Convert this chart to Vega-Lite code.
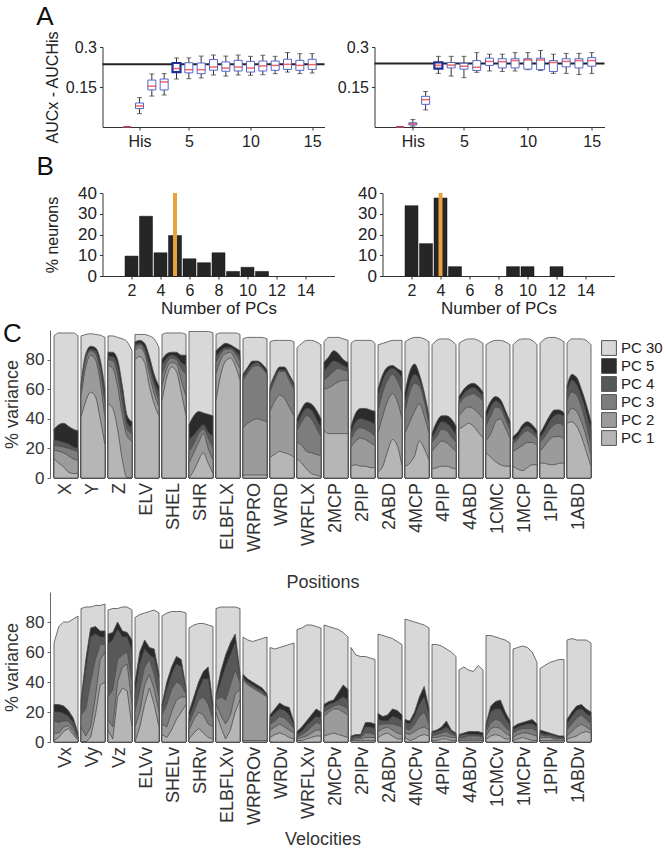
{
"$schema": "https://vega.github.io/schema/vega-lite/v6.json",
"padding": {"left": 3, "top": 3, "right": 0, "bottom": 0},
"config": {
  "font": "Liberation Sans",
  "view": {"stroke": null},
  "axis": {"grid": false, "domainColor": "#333", "tickColor": "#333", "labelColor": "#222", "titleColor": "#222", "labelFontSize": 16, "titleFontSize": 16, "titleFontWeight": "normal", "tickSize": 3, "labelPadding": 3},
  "title": {"fontSize": 26, "fontWeight": "normal", "anchor": "start", "frame": "bounds", "color": "#111"},
  "header": {"labelFont": "Liberation Sans", "titleFont": "Liberation Sans"},
  "legend": {"labelFont": "Liberation Sans"}
},
"datasets": {
  "refL": [{"auc": 0.235}],
  "refR": [{"auc": 0.238}],
  "aucL": [
    {"n":0,"lo":0,"q1":0,"med":0,"q3":0,"hi":0,"hl":false},
    {"n":1,"lo":0.05,"q1":0.069,"med":0.079,"q3":0.09,"hi":0.11,"hl":false},
    {"n":2,"lo":0.116,"q1":0.139,"med":0.153,"q3":0.176,"hi":0.199,"hl":false},
    {"n":3,"lo":0.12,"q1":0.139,"med":0.169,"q3":0.18,"hi":0.2,"hl":false},
    {"n":4,"lo":0.18,"q1":0.206,"med":0.219,"q3":0.24,"hi":0.259,"hl":true},
    {"n":5,"lo":0.181,"q1":0.203,"med":0.215,"q3":0.241,"hi":0.259,"hl":false},
    {"n":6,"lo":0.184,"q1":0.2,"med":0.215,"q3":0.24,"hi":0.266,"hl":false},
    {"n":7,"lo":0.195,"q1":0.213,"med":0.225,"q3":0.253,"hi":0.27,"hl":false},
    {"n":8,"lo":0.191,"q1":0.209,"med":0.221,"q3":0.244,"hi":0.266,"hl":false},
    {"n":9,"lo":0.195,"q1":0.21,"med":0.225,"q3":0.25,"hi":0.27,"hl":false},
    {"n":10,"lo":0.194,"q1":0.206,"med":0.221,"q3":0.246,"hi":0.265,"hl":false},
    {"n":11,"lo":0.196,"q1":0.21,"med":0.229,"q3":0.2475,"hi":0.269,"hl":false},
    {"n":12,"lo":0.2,"q1":0.2125,"med":0.231,"q3":0.2475,"hi":0.265,"hl":false},
    {"n":13,"lo":0.206,"q1":0.216,"med":0.235,"q3":0.254,"hi":0.279,"hl":false},
    {"n":14,"lo":0.2,"q1":0.2125,"med":0.231,"q3":0.25,"hi":0.275,"hl":false},
    {"n":15,"lo":0.2025,"q1":0.216,"med":0.234,"q3":0.254,"hi":0.275,"hl":false}
  ],
  "aucR": [
    {"n":0,"lo":0,"q1":0,"med":0,"q3":0,"hi":0,"hl":false},
    {"n":1,"lo":0.003,"q1":0.008,"med":0.012,"q3":0.016,"hi":0.028,"hl":false},
    {"n":2,"lo":0.064,"q1":0.085,"med":0.1025,"q3":0.115,"hi":0.133,"hl":false},
    {"n":3,"lo":0.201,"q1":0.219,"med":0.231,"q3":0.242,"hi":0.265,"hl":true},
    {"n":4,"lo":0.191,"q1":0.2215,"med":0.232,"q3":0.242,"hi":0.265,"hl":false},
    {"n":5,"lo":0.185,"q1":0.217,"med":0.228,"q3":0.239,"hi":0.265,"hl":false},
    {"n":6,"lo":0.205,"q1":0.212,"med":0.224,"q3":0.249,"hi":0.279,"hl":false},
    {"n":7,"lo":0.21,"q1":0.231,"med":0.246,"q3":0.258,"hi":0.273,"hl":false},
    {"n":8,"lo":0.208,"q1":0.2215,"med":0.245,"q3":0.256,"hi":0.273,"hl":false},
    {"n":9,"lo":0.21,"q1":0.2215,"med":0.249,"q3":0.256,"hi":0.279,"hl":false},
    {"n":10,"lo":0.215,"q1":0.217,"med":0.2515,"q3":0.256,"hi":0.279,"hl":false},
    {"n":11,"lo":0.212,"q1":0.215,"med":0.2515,"q3":0.258,"hi":0.287,"hl":false},
    {"n":12,"lo":0.201,"q1":0.208,"med":0.242,"q3":0.249,"hi":0.273,"hl":false},
    {"n":13,"lo":0.201,"q1":0.2255,"med":0.246,"q3":0.256,"hi":0.276,"hl":false},
    {"n":14,"lo":0.197,"q1":0.2215,"med":0.249,"q3":0.256,"hi":0.276,"hl":false},
    {"n":15,"lo":0.201,"q1":0.228,"med":0.249,"q3":0.26,"hi":0.279,"hl":false}
  ],
  "bL": [{"n":2,"p":9.6},{"n":3,"p":28.8},{"n":4,"p":11.2},{"n":5,"p":19.5},{"n":6,"p":8.3},{"n":7,"p":6.4},{"n":8,"p":11.2},{"n":9,"p":2.2},{"n":10,"p":4.2},{"n":11,"p":2.2}],
  "bR": [{"n":2,"p":33.9},{"n":3,"p":15.6},{"n":4,"p":37.6},{"n":5,"p":4.5},{"n":9,"p":4.5},{"n":10,"p":4.5},{"n":12,"p":4.5}],
  "mL": [{"n":5}],
  "mR": [{"n":4}],
  "pos": [
    {"j":"X","t":0,"p1":13,"p2":19,"p3":22,"p4":25.5,"p5":33,"p30":96},
    {"j":"X","t":0.2,"p1":10,"p2":18,"p3":21.5,"p4":25,"p5":36,"p30":98},
    {"j":"X","t":0.4,"p1":7.5,"p2":17,"p3":21,"p4":24,"p5":37,"p30":98},
    {"j":"X","t":0.6,"p1":4,"p2":15,"p3":20,"p4":23,"p5":35,"p30":98},
    {"j":"X","t":0.8,"p1":3,"p2":13,"p3":19,"p4":21,"p5":33,"p30":98},
    {"j":"X","t":1,"p1":3,"p2":12,"p3":17.6,"p4":20,"p5":32,"p30":96},
    {"j":"Y","t":0,"p1":41,"p2":55,"p3":60,"p4":62,"p5":64,"p30":96},
    {"j":"Y","t":0.2,"p1":52,"p2":75,"p3":80,"p4":82,"p5":84,"p30":97},
    {"j":"Y","t":0.4,"p1":58,"p2":83,"p3":86,"p4":87,"p5":89,"p30":97.5},
    {"j":"Y","t":0.6,"p1":55,"p2":80,"p3":84,"p4":86,"p5":88,"p30":97},
    {"j":"Y","t":0.8,"p1":40,"p2":65,"p3":72,"p4":76,"p5":80,"p30":96.5},
    {"j":"Y","t":1,"p1":22,"p2":40,"p3":50,"p4":55,"p5":60,"p30":95},
    {"j":"Z","t":0,"p1":50,"p2":76,"p3":80,"p4":82,"p5":85,"p30":96},
    {"j":"Z","t":0.2,"p1":47,"p2":74,"p3":79,"p4":82,"p5":85,"p30":96},
    {"j":"Z","t":0.4,"p1":33,"p2":62,"p3":70,"p4":75,"p5":80,"p30":95},
    {"j":"Z","t":0.6,"p1":12,"p2":42,"p3":50,"p4":56,"p5":62,"p30":94},
    {"j":"Z","t":0.8,"p1":0,"p2":28,"p3":33,"p4":37,"p5":42,"p30":92},
    {"j":"Z","t":1,"p1":0,"p2":25,"p3":30,"p4":34,"p5":38,"p30":86},
    {"j":"ELV","t":0,"p1":80,"p2":86,"p3":88,"p4":90,"p5":92,"p30":97},
    {"j":"ELV","t":0.2,"p1":82,"p2":88,"p3":90,"p4":91,"p5":93,"p30":97},
    {"j":"ELV","t":0.4,"p1":78,"p2":84,"p3":86,"p4":88,"p5":91,"p30":97},
    {"j":"ELV","t":0.6,"p1":62,"p2":70,"p3":74,"p4":77,"p5":82,"p30":96},
    {"j":"ELV","t":0.8,"p1":50,"p2":57,"p3":62,"p4":65,"p5":70,"p30":94},
    {"j":"ELV","t":1,"p1":42,"p2":48,"p3":52,"p4":57,"p5":62,"p30":88},
    {"j":"SHEL","t":0,"p1":52,"p2":62,"p3":70,"p4":76,"p5":80,"p30":97},
    {"j":"SHEL","t":0.2,"p1":68,"p2":74,"p3":78,"p4":81,"p5":84,"p30":98},
    {"j":"SHEL","t":0.4,"p1":75,"p2":78,"p3":81,"p4":83,"p5":85,"p30":98},
    {"j":"SHEL","t":0.6,"p1":72,"p2":77,"p3":80,"p4":82,"p5":85,"p30":98},
    {"j":"SHEL","t":0.8,"p1":58,"p2":66,"p3":74,"p4":78,"p5":83,"p30":98},
    {"j":"SHEL","t":1,"p1":42,"p2":55,"p3":70,"p4":76,"p5":83,"p30":97},
    {"j":"SHR","t":0,"p1":0,"p2":10,"p3":18,"p4":26,"p5":36,"p30":99},
    {"j":"SHR","t":0.2,"p1":5,"p2":17,"p3":23,"p4":29,"p5":42,"p30":99},
    {"j":"SHR","t":0.4,"p1":12,"p2":24,"p3":30,"p4":33,"p5":45,"p30":99},
    {"j":"SHR","t":0.6,"p1":17,"p2":30,"p3":33,"p4":36,"p5":44,"p30":99},
    {"j":"SHR","t":0.8,"p1":10,"p2":20,"p3":27,"p4":31,"p5":43,"p30":99},
    {"j":"SHR","t":1,"p1":3,"p2":12,"p3":20,"p4":28,"p5":42,"p30":98},
    {"j":"ELBFLX","t":0,"p1":52,"p2":70,"p3":78,"p4":82,"p5":86,"p30":97},
    {"j":"ELBFLX","t":0.2,"p1":70,"p2":80,"p3":84,"p4":86,"p5":89,"p30":98},
    {"j":"ELBFLX","t":0.4,"p1":79,"p2":84,"p3":87,"p4":88,"p5":91,"p30":98},
    {"j":"ELBFLX","t":0.6,"p1":81,"p2":85,"p3":87,"p4":88,"p5":90,"p30":98},
    {"j":"ELBFLX","t":0.8,"p1":76,"p2":80,"p3":84,"p4":86,"p5":88,"p30":98},
    {"j":"ELBFLX","t":1,"p1":66,"p2":74,"p3":79,"p4":82,"p5":86,"p30":97},
    {"j":"WRPRO","t":0,"p1":2,"p2":34,"p3":66,"p4":68,"p5":70,"p30":94},
    {"j":"WRPRO","t":0.2,"p1":2,"p2":37,"p3":71,"p4":73,"p5":75,"p30":95},
    {"j":"WRPRO","t":0.4,"p1":2,"p2":39,"p3":75,"p4":77,"p5":79,"p30":95},
    {"j":"WRPRO","t":0.6,"p1":2,"p2":40,"p3":76,"p4":78,"p5":79,"p30":95},
    {"j":"WRPRO","t":0.8,"p1":2,"p2":39,"p3":74,"p4":75,"p5":77,"p30":95},
    {"j":"WRPRO","t":1,"p1":2,"p2":38,"p3":70,"p4":71,"p5":73,"p30":94},
    {"j":"WRD","t":0,"p1":14,"p2":45,"p3":58,"p4":60,"p5":62,"p30":92},
    {"j":"WRD","t":0.2,"p1":16,"p2":52,"p3":66,"p4":68,"p5":70,"p30":93},
    {"j":"WRD","t":0.4,"p1":18,"p2":56,"p3":72,"p4":73,"p5":75,"p30":93},
    {"j":"WRD","t":0.6,"p1":17,"p2":54,"p3":72,"p4":73,"p5":75,"p30":93},
    {"j":"WRD","t":0.8,"p1":16,"p2":48,"p3":66,"p4":68,"p5":70,"p30":93},
    {"j":"WRD","t":1,"p1":14,"p2":42,"p3":60,"p4":62,"p5":64,"p30":92},
    {"j":"WRFLX","t":0,"p1":13,"p2":24,"p3":32,"p4":36,"p5":40,"p30":88},
    {"j":"WRFLX","t":0.2,"p1":10,"p2":22,"p3":38,"p4":43,"p5":47,"p30":91},
    {"j":"WRFLX","t":0.4,"p1":6,"p2":18,"p3":42,"p4":47,"p5":51,"p30":93},
    {"j":"WRFLX","t":0.6,"p1":3,"p2":17,"p3":40,"p4":46,"p5":50,"p30":93},
    {"j":"WRFLX","t":0.8,"p1":2,"p2":16,"p3":34,"p4":40,"p5":46,"p30":92},
    {"j":"WRFLX","t":1,"p1":1,"p2":15,"p3":28,"p4":34,"p5":40,"p30":90},
    {"j":"2MCP","t":0,"p1":32,"p2":60,"p3":66,"p4":72,"p5":78,"p30":92},
    {"j":"2MCP","t":0.2,"p1":30,"p2":61,"p3":69,"p4":76,"p5":82,"p30":95},
    {"j":"2MCP","t":0.4,"p1":30,"p2":63,"p3":72,"p4":79,"p5":86,"p30":95},
    {"j":"2MCP","t":0.6,"p1":30,"p2":65,"p3":74,"p4":78,"p5":84,"p30":95},
    {"j":"2MCP","t":0.8,"p1":30,"p2":66,"p3":73,"p4":76,"p5":80,"p30":94},
    {"j":"2MCP","t":1,"p1":30,"p2":66,"p3":72,"p4":74,"p5":78,"p30":93},
    {"j":"2PIP","t":0,"p1":8,"p2":21,"p3":26,"p4":30,"p5":35,"p30":91},
    {"j":"2PIP","t":0.2,"p1":9,"p2":25,"p3":32,"p4":38,"p5":44,"p30":93},
    {"j":"2PIP","t":0.4,"p1":8,"p2":27,"p3":34,"p4":40,"p5":47,"p30":93},
    {"j":"2PIP","t":0.6,"p1":8,"p2":26,"p3":33,"p4":39,"p5":47,"p30":93},
    {"j":"2PIP","t":0.8,"p1":7,"p2":24,"p3":31,"p4":38,"p5":46,"p30":93},
    {"j":"2PIP","t":1,"p1":7,"p2":22,"p3":28,"p4":36,"p5":45,"p30":91},
    {"j":"2ABD","t":0,"p1":4,"p2":30,"p3":45,"p4":55,"p5":60,"p30":90},
    {"j":"2ABD","t":0.2,"p1":8,"p2":42,"p3":58,"p4":66,"p5":70,"p30":91},
    {"j":"2ABD","t":0.4,"p1":18,"p2":52,"p3":66,"p4":72,"p5":75,"p30":92},
    {"j":"2ABD","t":0.6,"p1":26,"p2":57,"p3":70,"p4":74,"p5":76,"p30":93},
    {"j":"2ABD","t":0.8,"p1":22,"p2":52,"p3":66,"p4":72,"p5":74,"p30":93},
    {"j":"2ABD","t":1,"p1":8,"p2":40,"p3":58,"p4":68,"p5":72,"p30":93},
    {"j":"4MCP","t":0,"p1":8,"p2":30,"p3":45,"p4":50,"p5":58,"p30":92},
    {"j":"4MCP","t":0.2,"p1":10,"p2":38,"p3":58,"p4":64,"p5":72,"p30":94},
    {"j":"4MCP","t":0.4,"p1":15,"p2":45,"p3":64,"p4":70,"p5":77,"p30":95},
    {"j":"4MCP","t":0.6,"p1":25,"p2":50,"p3":62,"p4":66,"p5":70,"p30":95},
    {"j":"4MCP","t":0.8,"p1":20,"p2":42,"p3":52,"p4":55,"p5":58,"p30":94},
    {"j":"4MCP","t":1,"p1":12,"p2":30,"p3":36,"p4":38,"p5":42,"p30":92},
    {"j":"4PIP","t":0,"p1":6,"p2":18,"p3":24,"p4":27,"p5":30,"p30":90},
    {"j":"4PIP","t":0.2,"p1":7,"p2":22,"p3":28,"p4":33,"p5":38,"p30":93},
    {"j":"4PIP","t":0.4,"p1":8,"p2":25,"p3":33,"p4":38,"p5":42,"p30":94},
    {"j":"4PIP","t":0.6,"p1":8,"p2":24,"p3":32,"p4":37,"p5":42,"p30":94},
    {"j":"4PIP","t":0.8,"p1":7,"p2":21,"p3":28,"p4":34,"p5":40,"p30":93},
    {"j":"4PIP","t":1,"p1":6,"p2":18,"p3":24,"p4":29,"p5":35,"p30":90},
    {"j":"4ABD","t":0,"p1":33,"p2":42,"p3":50,"p4":52,"p5":55,"p30":91},
    {"j":"4ABD","t":0.2,"p1":35,"p2":46,"p3":54,"p4":57,"p5":60,"p30":93},
    {"j":"4ABD","t":0.4,"p1":37,"p2":48,"p3":56,"p4":60,"p5":63,"p30":94},
    {"j":"4ABD","t":0.6,"p1":35,"p2":47,"p3":57,"p4":61,"p5":64,"p30":94},
    {"j":"4ABD","t":0.8,"p1":31,"p2":44,"p3":55,"p4":59,"p5":62,"p30":93},
    {"j":"4ABD","t":1,"p1":27,"p2":40,"p3":52,"p4":55,"p5":58,"p30":91},
    {"j":"1CMC","t":0,"p1":17,"p2":25,"p3":35,"p4":40,"p5":45,"p30":90},
    {"j":"1CMC","t":0.2,"p1":14,"p2":30,"p3":42,"p4":48,"p5":52,"p30":92},
    {"j":"1CMC","t":0.4,"p1":11,"p2":38,"p3":48,"p4":52,"p5":55,"p30":93},
    {"j":"1CMC","t":0.6,"p1":9,"p2":40,"p3":47,"p4":50,"p5":53,"p30":93},
    {"j":"1CMC","t":0.8,"p1":8,"p2":34,"p3":40,"p4":43,"p5":46,"p30":92},
    {"j":"1CMC","t":1,"p1":8,"p2":27,"p3":32,"p4":35,"p5":38,"p30":90},
    {"j":"1MCP","t":0,"p1":8,"p2":18,"p3":23,"p4":25,"p5":28,"p30":90},
    {"j":"1MCP","t":0.2,"p1":6,"p2":20,"p3":26,"p4":28,"p5":31,"p30":93},
    {"j":"1MCP","t":0.4,"p1":5,"p2":22,"p3":30,"p4":33,"p5":36,"p30":94},
    {"j":"1MCP","t":0.6,"p1":7,"p2":24,"p3":32,"p4":35,"p5":38,"p30":94},
    {"j":"1MCP","t":0.8,"p1":9,"p2":24,"p3":30,"p4":33,"p5":36,"p30":93},
    {"j":"1MCP","t":1,"p1":9,"p2":22,"p3":27,"p4":29,"p5":32,"p30":90},
    {"j":"1PIP","t":0,"p1":10,"p2":18,"p3":24,"p4":27,"p5":30,"p30":91},
    {"j":"1PIP","t":0.2,"p1":10,"p2":22,"p3":28,"p4":32,"p5":36,"p30":94},
    {"j":"1PIP","t":0.4,"p1":9,"p2":26,"p3":33,"p4":38,"p5":42,"p30":95},
    {"j":"1PIP","t":0.6,"p1":9,"p2":28,"p3":36,"p4":42,"p5":46,"p30":95},
    {"j":"1PIP","t":0.8,"p1":10,"p2":28,"p3":37,"p4":43,"p5":46,"p30":94},
    {"j":"1PIP","t":1,"p1":10,"p2":26,"p3":35,"p4":41,"p5":44,"p30":92},
    {"j":"1ABD","t":0,"p1":37,"p2":42,"p3":52,"p4":58,"p5":62,"p30":91},
    {"j":"1ABD","t":0.2,"p1":38,"p2":47,"p3":58,"p4":66,"p5":70,"p30":94},
    {"j":"1ABD","t":0.4,"p1":35,"p2":45,"p3":56,"p4":63,"p5":68,"p30":94},
    {"j":"1ABD","t":0.6,"p1":28,"p2":38,"p3":48,"p4":55,"p5":60,"p30":94},
    {"j":"1ABD","t":0.8,"p1":18,"p2":28,"p3":36,"p4":44,"p5":50,"p30":93},
    {"j":"1ABD","t":1,"p1":8,"p2":15,"p3":22,"p4":32,"p5":38,"p30":90}
  ],
  "vel": [
    {"j":"Vx","t":0,"p1":1,"p2":6,"p3":14,"p4":20,"p5":25,"p30":66},
    {"j":"Vx","t":0.2,"p1":3,"p2":6,"p3":13,"p4":20,"p5":25,"p30":77},
    {"j":"Vx","t":0.4,"p1":7,"p2":10,"p3":14,"p4":19,"p5":24,"p30":80},
    {"j":"Vx","t":0.6,"p1":9,"p2":11,"p3":14,"p4":17,"p5":21,"p30":80},
    {"j":"Vx","t":0.8,"p1":5,"p2":7,"p3":10,"p4":13,"p5":16,"p30":82},
    {"j":"Vx","t":1,"p1":1,"p2":2,"p3":3,"p4":4,"p5":6,"p30":84},
    {"j":"Vy","t":0,"p1":0,"p2":10,"p3":18,"p4":24,"p5":28,"p30":89},
    {"j":"Vy","t":0.2,"p1":0,"p2":4,"p3":22,"p4":48,"p5":55,"p30":90},
    {"j":"Vy","t":0.4,"p1":3,"p2":10,"p3":40,"p4":70,"p5":76,"p30":90},
    {"j":"Vy","t":0.6,"p1":18,"p2":30,"p3":55,"p4":72,"p5":77,"p30":91},
    {"j":"Vy","t":0.8,"p1":38,"p2":55,"p3":65,"p4":70,"p5":74,"p30":91},
    {"j":"Vy","t":1,"p1":40,"p2":60,"p3":65,"p4":70,"p5":74,"p30":92},
    {"j":"Vz","t":0,"p1":8,"p2":15,"p3":30,"p4":65,"p5":72,"p30":88},
    {"j":"Vz","t":0.2,"p1":2,"p2":10,"p3":35,"p4":68,"p5":73,"p30":89},
    {"j":"Vz","t":0.4,"p1":30,"p2":40,"p3":55,"p4":75,"p5":80,"p30":89},
    {"j":"Vz","t":0.6,"p1":36,"p2":50,"p3":58,"p4":70,"p5":74,"p30":90},
    {"j":"Vz","t":0.8,"p1":34,"p2":52,"p3":60,"p4":70,"p5":73,"p30":90},
    {"j":"Vz","t":1,"p1":10,"p2":25,"p3":40,"p4":60,"p5":68,"p30":88},
    {"j":"ELVv","t":0,"p1":0,"p2":10,"p3":20,"p4":32,"p5":40,"p30":83},
    {"j":"ELVv","t":0.2,"p1":10,"p2":20,"p3":35,"p4":52,"p5":60,"p30":85},
    {"j":"ELVv","t":0.4,"p1":25,"p2":38,"p3":50,"p4":62,"p5":68,"p30":86},
    {"j":"ELVv","t":0.6,"p1":36,"p2":45,"p3":55,"p4":58,"p5":63,"p30":87},
    {"j":"ELVv","t":0.8,"p1":25,"p2":35,"p3":45,"p4":56,"p5":62,"p30":88},
    {"j":"ELVv","t":1,"p1":10,"p2":20,"p3":30,"p4":40,"p5":45,"p30":86},
    {"j":"SHELv","t":0,"p1":5,"p2":12,"p3":18,"p4":22,"p5":25,"p30":84},
    {"j":"SHELv","t":0.2,"p1":3,"p2":10,"p3":25,"p4":35,"p5":40,"p30":86},
    {"j":"SHELv","t":0.4,"p1":8,"p2":20,"p3":35,"p4":45,"p5":50,"p30":87},
    {"j":"SHELv","t":0.6,"p1":15,"p2":28,"p3":40,"p4":52,"p5":57,"p30":87},
    {"j":"SHELv","t":0.8,"p1":20,"p2":30,"p3":38,"p4":50,"p5":55,"p30":87},
    {"j":"SHELv","t":1,"p1":25,"p2":30,"p3":32,"p4":34,"p5":36,"p30":86},
    {"j":"SHRv","t":0,"p1":2,"p2":8,"p3":12,"p4":16,"p5":20,"p30":76},
    {"j":"SHRv","t":0.2,"p1":6,"p2":15,"p3":20,"p4":25,"p5":30,"p30":78},
    {"j":"SHRv","t":0.4,"p1":9,"p2":20,"p3":28,"p4":35,"p5":40,"p30":79},
    {"j":"SHRv","t":0.6,"p1":6,"p2":18,"p3":30,"p4":42,"p5":47,"p30":79},
    {"j":"SHRv","t":0.8,"p1":3,"p2":12,"p3":25,"p4":42,"p5":50,"p30":78},
    {"j":"SHRv","t":1,"p1":2,"p2":10,"p3":15,"p4":20,"p5":25,"p30":77},
    {"j":"ELBFLXv","t":0,"p1":20,"p2":25,"p3":28,"p4":30,"p5":32,"p30":89},
    {"j":"ELBFLXv","t":0.2,"p1":10,"p2":18,"p3":30,"p4":40,"p5":47,"p30":90},
    {"j":"ELBFLXv","t":0.4,"p1":2,"p2":12,"p3":28,"p4":50,"p5":58,"p30":90},
    {"j":"ELBFLXv","t":0.6,"p1":8,"p2":18,"p3":38,"p4":58,"p5":66,"p30":90},
    {"j":"ELBFLXv","t":0.8,"p1":20,"p2":32,"p3":48,"p4":66,"p5":72,"p30":90},
    {"j":"ELBFLXv","t":1,"p1":28,"p2":35,"p3":40,"p4":43,"p5":46,"p30":89},
    {"j":"WRPROv","t":0,"p1":1,"p2":41,"p3":42,"p4":43,"p5":45,"p30":70},
    {"j":"WRPROv","t":0.2,"p1":1,"p2":38,"p3":39,"p4":40,"p5":42,"p30":68},
    {"j":"WRPROv","t":0.4,"p1":1,"p2":36,"p3":37,"p4":38,"p5":40,"p30":67},
    {"j":"WRPROv","t":0.6,"p1":1,"p2":34,"p3":35,"p4":36,"p5":38,"p30":68},
    {"j":"WRPROv","t":0.8,"p1":1,"p2":32,"p3":33,"p4":34,"p5":36,"p30":69},
    {"j":"WRPROv","t":1,"p1":1,"p2":30,"p3":30.5,"p4":31,"p5":32,"p30":70},
    {"j":"WRDv","t":0,"p1":3,"p2":8,"p3":12,"p4":16,"p5":18,"p30":63},
    {"j":"WRDv","t":0.2,"p1":5,"p2":10,"p3":14,"p4":19,"p5":22,"p30":62},
    {"j":"WRDv","t":0.4,"p1":6,"p2":12,"p3":17,"p4":22,"p5":26,"p30":63},
    {"j":"WRDv","t":0.6,"p1":5,"p2":10,"p3":16,"p4":21,"p5":24,"p30":64},
    {"j":"WRDv","t":0.8,"p1":3,"p2":8,"p3":13,"p4":18,"p5":23,"p30":65},
    {"j":"WRDv","t":1,"p1":2,"p2":6,"p3":9,"p4":11,"p5":13,"p30":66},
    {"j":"WRFLXv","t":0,"p1":1,"p2":2,"p3":3,"p4":5,"p5":7,"p30":75},
    {"j":"WRFLXv","t":0.2,"p1":1,"p2":3,"p3":5,"p4":7,"p5":10,"p30":76},
    {"j":"WRFLXv","t":0.4,"p1":2,"p2":4,"p3":7,"p4":11,"p5":14,"p30":78},
    {"j":"WRFLXv","t":0.6,"p1":3,"p2":6,"p3":10,"p4":14,"p5":18,"p30":78},
    {"j":"WRFLXv","t":0.8,"p1":4,"p2":8,"p3":13,"p4":17,"p5":22,"p30":77},
    {"j":"WRFLXv","t":1,"p1":4,"p2":8,"p3":12,"p4":16,"p5":20,"p30":76},
    {"j":"2MCPv","t":0,"p1":4,"p2":17,"p3":20,"p4":23,"p5":25,"p30":78},
    {"j":"2MCPv","t":0.2,"p1":5,"p2":20,"p3":22,"p4":25,"p5":27,"p30":77},
    {"j":"2MCPv","t":0.4,"p1":6,"p2":22,"p3":24,"p4":26,"p5":28,"p30":76},
    {"j":"2MCPv","t":0.6,"p1":5,"p2":22,"p3":25,"p4":28,"p5":33,"p30":75},
    {"j":"2MCPv","t":0.8,"p1":4,"p2":20,"p3":24,"p4":30,"p5":38,"p30":73},
    {"j":"2MCPv","t":1,"p1":3,"p2":18,"p3":22,"p4":28,"p5":35,"p30":70},
    {"j":"2PIPv","t":0,"p1":1,"p2":1.5,"p3":2,"p4":3,"p5":4,"p30":63},
    {"j":"2PIPv","t":0.2,"p1":1,"p2":2,"p3":3,"p4":4,"p5":5,"p30":58},
    {"j":"2PIPv","t":0.4,"p1":1,"p2":2,"p3":3,"p4":4,"p5":5,"p30":57},
    {"j":"2PIPv","t":0.6,"p1":1,"p2":3,"p3":6,"p4":10,"p5":13,"p30":57},
    {"j":"2PIPv","t":0.8,"p1":1,"p2":3,"p3":6,"p4":10,"p5":13,"p30":56},
    {"j":"2PIPv","t":1,"p1":1,"p2":3,"p3":5,"p4":9,"p5":12,"p30":55},
    {"j":"2ABDv","t":0,"p1":3,"p2":7,"p3":11,"p4":15,"p5":19,"p30":72},
    {"j":"2ABDv","t":0.2,"p1":5,"p2":9,"p3":12,"p4":14,"p5":17,"p30":71},
    {"j":"2ABDv","t":0.4,"p1":6,"p2":10,"p3":12,"p4":14,"p5":18,"p30":70},
    {"j":"2ABDv","t":0.6,"p1":4,"p2":8,"p3":12,"p4":17,"p5":22,"p30":69},
    {"j":"2ABDv","t":0.8,"p1":2,"p2":6,"p3":11,"p4":16,"p5":21,"p30":67},
    {"j":"2ABDv","t":1,"p1":2,"p2":5,"p3":10,"p4":14,"p5":18,"p30":65},
    {"j":"4MCPv","t":0,"p1":3,"p2":6,"p3":9,"p4":13,"p5":15,"p30":82},
    {"j":"4MCPv","t":0.2,"p1":1,"p2":5,"p3":8,"p4":12,"p5":14,"p30":81},
    {"j":"4MCPv","t":0.4,"p1":2,"p2":7,"p3":12,"p4":17,"p5":20,"p30":80},
    {"j":"4MCPv","t":0.6,"p1":4,"p2":9,"p3":17,"p4":25,"p5":30,"p30":79},
    {"j":"4MCPv","t":0.8,"p1":5,"p2":10,"p3":20,"p4":30,"p5":37,"p30":78},
    {"j":"4MCPv","t":1,"p1":4,"p2":8,"p3":12,"p4":18,"p5":22,"p30":76},
    {"j":"4PIPv","t":0,"p1":1,"p2":3,"p3":4,"p4":6,"p5":7,"p30":65},
    {"j":"4PIPv","t":0.2,"p1":1,"p2":3,"p3":5,"p4":7,"p5":8,"p30":65},
    {"j":"4PIPv","t":0.4,"p1":2,"p2":4,"p3":6,"p4":8,"p5":10,"p30":64},
    {"j":"4PIPv","t":0.6,"p1":2,"p2":4,"p3":7,"p4":10,"p5":14,"p30":62},
    {"j":"4PIPv","t":0.8,"p1":1,"p2":3,"p3":5,"p4":7,"p5":8,"p30":60},
    {"j":"4PIPv","t":1,"p1":1,"p2":3,"p3":4,"p4":5,"p5":6,"p30":57},
    {"j":"4ABDv","t":0,"p1":1,"p2":2,"p3":3,"p4":4,"p5":5,"p30":48},
    {"j":"4ABDv","t":0.2,"p1":1,"p2":2,"p3":3,"p4":5,"p5":6,"p30":50},
    {"j":"4ABDv","t":0.4,"p1":1,"p2":2,"p3":4,"p4":5,"p5":7,"p30":48},
    {"j":"4ABDv","t":0.6,"p1":1,"p2":2,"p3":4,"p4":5,"p5":7,"p30":47},
    {"j":"4ABDv","t":0.8,"p1":1,"p2":2,"p3":4,"p4":5,"p5":7,"p30":51},
    {"j":"4ABDv","t":1,"p1":1,"p2":2,"p3":3,"p4":4,"p5":6,"p30":48},
    {"j":"1CMCv","t":0,"p1":2,"p2":4,"p3":7,"p4":10,"p5":12,"p30":71},
    {"j":"1CMCv","t":0.2,"p1":4,"p2":9,"p3":13,"p4":20,"p5":24,"p30":71},
    {"j":"1CMCv","t":0.4,"p1":5,"p2":10,"p3":15,"p4":22,"p5":27,"p30":70},
    {"j":"1CMCv","t":0.6,"p1":4,"p2":9,"p3":14,"p4":22,"p5":28,"p30":69},
    {"j":"1CMCv","t":0.8,"p1":2,"p2":6,"p3":10,"p4":16,"p5":20,"p30":68},
    {"j":"1CMCv","t":1,"p1":2,"p2":4,"p3":7,"p4":11,"p5":14,"p30":66},
    {"j":"1MCPv","t":0,"p1":1,"p2":3,"p3":6,"p4":8,"p5":10,"p30":62},
    {"j":"1MCPv","t":0.2,"p1":2,"p2":5,"p3":8,"p4":10,"p5":12,"p30":63},
    {"j":"1MCPv","t":0.4,"p1":3,"p2":6,"p3":9,"p4":11,"p5":13,"p30":64},
    {"j":"1MCPv","t":0.6,"p1":2,"p2":6,"p3":9,"p4":12,"p5":14,"p30":63},
    {"j":"1MCPv","t":0.8,"p1":1,"p2":5,"p3":9,"p4":12,"p5":15,"p30":60},
    {"j":"1MCPv","t":1,"p1":1,"p2":4,"p3":7,"p4":10,"p5":12,"p30":53},
    {"j":"1PIPv","t":0,"p1":1,"p2":3,"p3":5,"p4":6,"p5":8,"p30":49},
    {"j":"1PIPv","t":0.2,"p1":1,"p2":3,"p3":4,"p4":5,"p5":7,"p30":51},
    {"j":"1PIPv","t":0.4,"p1":1,"p2":3,"p3":4,"p4":5,"p5":6,"p30":53},
    {"j":"1PIPv","t":0.6,"p1":1,"p2":2,"p3":3,"p4":4,"p5":5,"p30":54},
    {"j":"1PIPv","t":0.8,"p1":1,"p2":2,"p3":2.5,"p4":3,"p5":4,"p30":55},
    {"j":"1PIPv","t":1,"p1":1,"p2":2,"p3":2.5,"p4":3,"p5":4,"p30":55},
    {"j":"1ABDv","t":0,"p1":2,"p2":4,"p3":8,"p4":12,"p5":15,"p30":68},
    {"j":"1ABDv","t":0.2,"p1":3,"p2":7,"p3":12,"p4":17,"p5":20,"p30":69},
    {"j":"1ABDv","t":0.4,"p1":4,"p2":10,"p3":16,"p4":21,"p5":24,"p30":68},
    {"j":"1ABDv","t":0.6,"p1":6,"p2":12,"p3":18,"p4":22,"p5":25,"p30":68},
    {"j":"1ABDv","t":0.8,"p1":7,"p2":10,"p3":15,"p4":19,"p5":22,"p30":68},
    {"j":"1ABDv","t":1,"p1":6,"p2":8,"p3":12,"p4":17,"p5":20,"p30":66}
  ]
},
"center": true,
"spacing": 4,
"vconcat": [
 {
  "spacing": 5,
  "vconcat": [
  {
    "title": {"text": "A", "dx": -8, "offset": 1},
    "spacing": 11,
    "hconcat": [
      {
        "width": 222, "height": 80,
        "layer": [
          {"data": {"name": "refL"}, "mark": {"type": "rule", "color": "#222", "strokeWidth": 2},
           "encoding": {"y": {"field": "auc", "type": "quantitative", "scale": {"domain": [0, 0.3]}, "axis": {"values": [0.15, 0.3], "format": ".2~f", "title": "AUCx - AUCHis", "titlePadding": 5}}}},
          {"data": {"name": "aucL"}, "mark": {"type": "rule", "color": "#333"},
           "encoding": {"x": {"field": "n", "type": "quantitative", "scale": {"domain": [0, 15]}, "axis": {"values": [1, 5, 10, 15], "labelExpr": "datum.value == 1 ? 'His' : datum.label", "title": null}},
                        "y": {"field": "lo", "type": "quantitative", "axis": {"values": [0.15, 0.3], "format": ".2~f", "title": "AUCx - AUCHis", "titlePadding": 5}}, "y2": {"field": "hi"}}},
          {"data": {"name": "aucL"}, "mark": {"type": "tick", "orient": "horizontal", "size": 5, "thickness": 1, "color": "#333"},
           "encoding": {"x": {"field": "n", "type": "quantitative", "axis": {"values": [1, 5, 10, 15], "labelExpr": "datum.value == 1 ? 'His' : datum.label", "title": null}},
                        "y": {"field": "lo", "type": "quantitative", "axis": {"values": [0.15, 0.3], "format": ".2~f", "title": "AUCx - AUCHis", "titlePadding": 5}}}},
          {"data": {"name": "aucL"}, "mark": {"type": "tick", "orient": "horizontal", "size": 5, "thickness": 1, "color": "#333"},
           "encoding": {"x": {"field": "n", "type": "quantitative", "axis": {"values": [1, 5, 10, 15], "labelExpr": "datum.value == 1 ? 'His' : datum.label", "title": null}},
                        "y": {"field": "hi", "type": "quantitative", "axis": {"values": [0.15, 0.3], "format": ".2~f", "title": "AUCx - AUCHis", "titlePadding": 5}}}},
          {"data": {"name": "aucL"}, "mark": {"type": "bar", "size": 8, "fill": "white"},
           "encoding": {"x": {"field": "n", "type": "quantitative", "axis": {"values": [1, 5, 10, 15], "labelExpr": "datum.value == 1 ? 'His' : datum.label", "title": null}},
                        "y": {"field": "q1", "type": "quantitative", "axis": {"values": [0.15, 0.3], "format": ".2~f", "title": "AUCx - AUCHis", "titlePadding": 5}}, "y2": {"field": "q3"},
                        "stroke": {"condition": {"test": "datum.hl", "value": "#1f2f9a"}, "value": "#5566cc"},
                        "strokeWidth": {"condition": {"test": "datum.hl", "value": 2.2}, "value": 1}}},
          {"data": {"name": "aucL"}, "mark": {"type": "tick", "orient": "horizontal", "size": 8, "thickness": 1.5, "color": "#e8262e"},
           "encoding": {"x": {"field": "n", "type": "quantitative", "axis": {"values": [1, 5, 10, 15], "labelExpr": "datum.value == 1 ? 'His' : datum.label", "title": null}},
                        "y": {"field": "med", "type": "quantitative", "axis": {"values": [0.15, 0.3], "format": ".2~f", "title": "AUCx - AUCHis", "titlePadding": 5}}}}
        ]
      },
      {
        "width": 230, "height": 80,
        "layer": [
          {"data": {"name": "refR"}, "mark": {"type": "rule", "color": "#222", "strokeWidth": 2},
           "encoding": {"y": {"field": "auc", "type": "quantitative", "scale": {"domain": [0, 0.3]}, "axis": {"values": [0.15, 0.3], "format": ".2~f", "title": null}}}},
          {"data": {"name": "aucR"}, "mark": {"type": "rule", "color": "#333"},
           "encoding": {"x": {"field": "n", "type": "quantitative", "scale": {"domain": [0, 15]}, "axis": {"values": [1, 5, 10, 15], "labelExpr": "datum.value == 1 ? 'His' : datum.label", "title": null}},
                        "y": {"field": "lo", "type": "quantitative", "axis": {"values": [0.15, 0.3], "format": ".2~f", "title": null}}, "y2": {"field": "hi"}}},
          {"data": {"name": "aucR"}, "mark": {"type": "tick", "orient": "horizontal", "size": 5, "thickness": 1, "color": "#333"},
           "encoding": {"x": {"field": "n", "type": "quantitative", "axis": {"values": [1, 5, 10, 15], "labelExpr": "datum.value == 1 ? 'His' : datum.label", "title": null}},
                        "y": {"field": "lo", "type": "quantitative", "axis": {"values": [0.15, 0.3], "format": ".2~f", "title": null}}}},
          {"data": {"name": "aucR"}, "mark": {"type": "tick", "orient": "horizontal", "size": 5, "thickness": 1, "color": "#333"},
           "encoding": {"x": {"field": "n", "type": "quantitative", "axis": {"values": [1, 5, 10, 15], "labelExpr": "datum.value == 1 ? 'His' : datum.label", "title": null}},
                        "y": {"field": "hi", "type": "quantitative", "axis": {"values": [0.15, 0.3], "format": ".2~f", "title": null}}}},
          {"data": {"name": "aucR"}, "mark": {"type": "bar", "size": 8, "fill": "white"},
           "encoding": {"x": {"field": "n", "type": "quantitative", "axis": {"values": [1, 5, 10, 15], "labelExpr": "datum.value == 1 ? 'His' : datum.label", "title": null}},
                        "y": {"field": "q1", "type": "quantitative", "axis": {"values": [0.15, 0.3], "format": ".2~f", "title": null}}, "y2": {"field": "q3"},
                        "stroke": {"condition": {"test": "datum.hl", "value": "#1f2f9a"}, "value": "#5566cc"},
                        "strokeWidth": {"condition": {"test": "datum.hl", "value": 2.2}, "value": 1}}},
          {"data": {"name": "aucR"}, "mark": {"type": "tick", "orient": "horizontal", "size": 8, "thickness": 1.5, "color": "#e8262e"},
           "encoding": {"x": {"field": "n", "type": "quantitative", "axis": {"values": [1, 5, 10, 15], "labelExpr": "datum.value == 1 ? 'His' : datum.label", "title": null}},
                        "y": {"field": "med", "type": "quantitative", "axis": {"values": [0.15, 0.3], "format": ".2~f", "title": null}}}}
        ]
      }
    ]
  },
  {
    "title": {"text": "B", "dx": -8, "offset": 4},
    "spacing": 23,
    "hconcat": [
      {
        "width": 232, "height": 83,
        "layer": [
          {"data": {"name": "bL"}, "mark": {"type": "bar", "size": 13, "color": "#262626", "stroke": "#111", "strokeWidth": 0.5},
           "encoding": {"x": {"field": "n", "type": "quantitative", "scale": {"domain": [1, 15]}, "axis": {"values": [2,4,6,8,10,12,14], "title": "Number of PCs", "titleFontSize": 17, "titlePadding": 2}},
                        "y": {"field": "p", "type": "quantitative", "scale": {"domain": [0, 40]}, "axis": {"values": [0,10,20,30,40], "title": "% neurons", "titlePadding": 17, "labelFontSize": 17}}}},
          {"data": {"name": "mL"}, "mark": {"type": "rule", "color": "#e9a23b", "strokeWidth": 4},
           "encoding": {"x": {"field": "n", "type": "quantitative", "axis": {"values": [2,4,6,8,10,12,14], "title": "Number of PCs", "titleFontSize": 17, "titlePadding": 2}}}}
        ]
      },
      {
        "width": 232, "height": 83,
        "layer": [
          {"data": {"name": "bR"}, "mark": {"type": "bar", "size": 13, "color": "#262626", "stroke": "#111", "strokeWidth": 0.5},
           "encoding": {"x": {"field": "n", "type": "quantitative", "scale": {"domain": [1, 15]}, "axis": {"values": [2,4,6,8,10,12,14], "title": "Number of PCs", "titleFontSize": 17, "titlePadding": 2}},
                        "y": {"field": "p", "type": "quantitative", "scale": {"domain": [0, 40]}, "axis": {"values": [0,10,20,30,40], "title": null, "labelFontSize": 17}}}},
          {"data": {"name": "mR"}, "mark": {"type": "rule", "color": "#e9a23b", "strokeWidth": 4},
           "encoding": {"x": {"field": "n", "type": "quantitative", "axis": {"values": [2,4,6,8,10,12,14], "title": "Number of PCs", "titleFontSize": 17, "titlePadding": 2}}}}
        ]
      }
    ]
  }
  ]
 },
 {
  "spacing": 0,
  "resolve": {"scale": {"color": "independent"}, "legend": {"color": "independent"}},
  "vconcat": [
  {
    "title": {"text": "C", "offset": -17},
    "data": {"name": "pos"},
    "transform": [{"fold": ["p30", "p5", "p4", "p3", "p2", "p1"], "as": ["pc", "v"]}],
    "spacing": 3,
    "bounds": "flush",
    "facet": {"column": {"field": "j", "type": "nominal", "title": "Positions",
      "sort": ["X","Y","Z","ELV","SHEL","SHR","ELBFLX","WRPRO","WRD","WRFLX","2MCP","2PIP","2ABD","4MCP","4PIP","4ABD","1CMC","1MCP","1PIP","1ABD"],
      "header": {"labelOrient": "bottom", "labelAngle": 270, "labelAlign": "right", "labelBaseline": "middle", "labelPadding": 5, "labelFontSize": 18, "labelColor": "#333", "titleOrient": "bottom", "titleFontSize": 18, "titleColor": "#333", "titleFontWeight": "normal", "titlePadding": 12}}},
    "spec": {
      "width": 24, "height": 148,
      "mark": {"type": "area", "interpolate": "monotone", "stroke": "#4d4d4d", "strokeWidth": 0.8, "opacity": 1},
      "encoding": {
        "x": {"field": "t", "type": "quantitative", "axis": null, "scale": {"domain": [0, 1]}},
        "y": {"field": "v", "type": "quantitative", "stack": null, "scale": {"domain": [0, 100]},
              "axis": {"values": [0,20,40,60,80], "title": "% variance", "offset": 4, "labelFontSize": 17, "titleFontSize": 18, "titlePadding": 4, "domainColor": "#666", "tickColor": "#666", "labelColor": "#333", "titleColor": "#333"}},
        "color": {"field": "pc", "type": "nominal",
                  "scale": {"domain": ["p30","p5","p4","p3","p2","p1"], "range": ["#d8d8d8","#2b2b2b","#585858","#7d7d7d","#9b9b9b","#b6b6b6"]},
                  "legend": {"title": null, "orient": "none", "legendX": 547, "legendY": 10, "symbolType": "square", "symbolSize": 220, "symbolStrokeColor": "#555", "symbolStrokeWidth": 1, "symbolOpacity": 1, "labelFontSize": 15, "labelColor": "#222", "rowPadding": -5, "labelExpr": "'PC ' + slice(datum.label, 1)"}}
      }
    }
  },
  {
    "data": {"name": "vel"},
    "transform": [{"fold": ["p30", "p5", "p4", "p3", "p2", "p1"], "as": ["pc", "v"]}],
    "spacing": 3,
    "bounds": "flush",
    "facet": {"column": {"field": "j", "type": "nominal", "title": "Velocities",
      "sort": ["Vx","Vy","Vz","ELVv","SHELv","SHRv","ELBFLXv","WRPROv","WRDv","WRFLXv","2MCPv","2PIPv","2ABDv","4MCPv","4PIPv","4ABDv","1CMCv","1MCPv","1PIPv","1ABDv"],
      "header": {"labelOrient": "bottom", "labelAngle": 270, "labelAlign": "right", "labelBaseline": "middle", "labelPadding": 5, "labelFontSize": 18, "labelColor": "#333", "titleOrient": "bottom", "titleFontSize": 18, "titleColor": "#333", "titleFontWeight": "normal", "titlePadding": -4}}},
    "spec": {
      "width": 24, "height": 150,
      "mark": {"type": "area", "interpolate": "linear", "stroke": "#4d4d4d", "strokeWidth": 0.8, "opacity": 1},
      "encoding": {
        "x": {"field": "t", "type": "quantitative", "axis": null, "scale": {"domain": [0, 1]}},
        "y": {"field": "v", "type": "quantitative", "stack": null, "scale": {"domain": [0, 100]},
              "axis": {"values": [0,20,40,60,80], "title": "% variance", "offset": 4, "labelFontSize": 17, "titleFontSize": 18, "titlePadding": 4, "domainColor": "#666", "tickColor": "#666", "labelColor": "#333", "titleColor": "#333"}},
        "color": {"field": "pc", "type": "nominal",
                  "scale": {"domain": ["p30","p5","p4","p3","p2","p1"], "range": ["#d8d8d8","#2b2b2b","#585858","#7d7d7d","#9b9b9b","#b6b6b6"]},
                  "legend": null}
      }
    }
  }
  ]
 }
]
}
